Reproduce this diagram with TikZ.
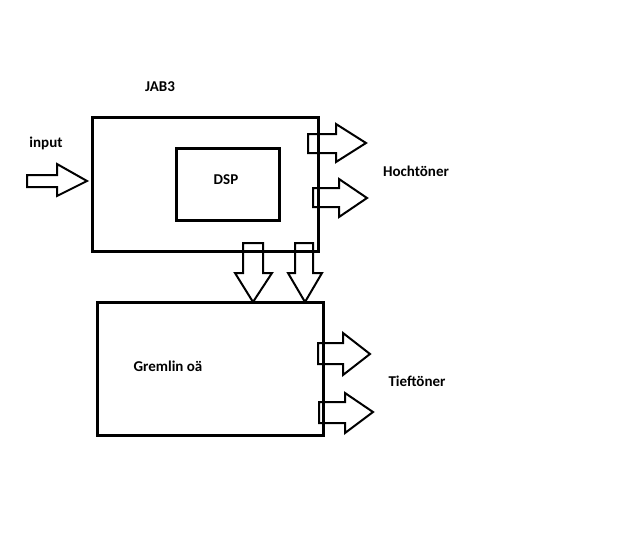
\documentclass[tikz,border=0pt]{standalone}
\usepackage{fontspec}
\setmainfont{Carlito}
\begin{document}
\begin{tikzpicture}[x=1pt,y=-1pt,
  box/.style={draw, line width=3pt, inner sep=0pt, anchor=north west},
  lbl/.style={font=\bfseries\fontsize{15}{17}\selectfont, inner sep=0pt},
  barrow/.style={draw, line width=2pt, line join=miter}]
\useasboundingbox (0,0) rectangle (634,541);
% boxes
\node[box, minimum width=226pt, minimum height=134pt] (jab) at (91,116) {};
\node[box, minimum width=103pt, minimum height=72pt] (dsp) at (175,147) {};
\node[box, minimum width=226pt, minimum height=133pt] (grem) at (96,301) {};
% labels
\node[lbl] (tjab) at (160,87) {JAB3};
\node[lbl] (tin) at (46,143) {input};
\node[lbl] (tdsp) at (226,180) {DSP};
\node[lbl] (thoch) at (416,171) {Hochtöner};
\node[lbl] (tgrem) at (168,366) {Gremlin oä};
\node[lbl] (ttief) at (417,381) {Tieftöner};
% input arrow
\draw[barrow] (27,175) -- (57,175) -- (57,164) -- (87,181) -- (57,196) -- (57,187) -- (27,187) -- cycle;
% Hochtoener arrows
\draw[barrow] (308,134) -- (336,134) -- (336,124) -- (366,143) -- (336,162) -- (336,153) -- (308,153) -- cycle;
\draw[barrow] (313,188) -- (339,188) -- (339,179) -- (367,198) -- (339,217) -- (339,207) -- (313,207) -- cycle;
% down arrows
\draw[barrow] (243,243) -- (263,243) -- (263,273) -- (272,273) -- (253,302) -- (235,273) -- (243,273) -- cycle;
\draw[barrow] (295,243) -- (313,243) -- (313,273) -- (322,273) -- (305,302) -- (288,273) -- (295,273) -- cycle;
% Tieftoener arrows
\draw[barrow] (318,343) -- (343,343) -- (343,333) -- (370,354) -- (343,375) -- (343,364) -- (318,364) -- cycle;
\draw[barrow] (319,402) -- (345,402) -- (345,393) -- (373,412) -- (345,433) -- (345,423) -- (319,423) -- cycle;
\end{tikzpicture}
\end{document}
